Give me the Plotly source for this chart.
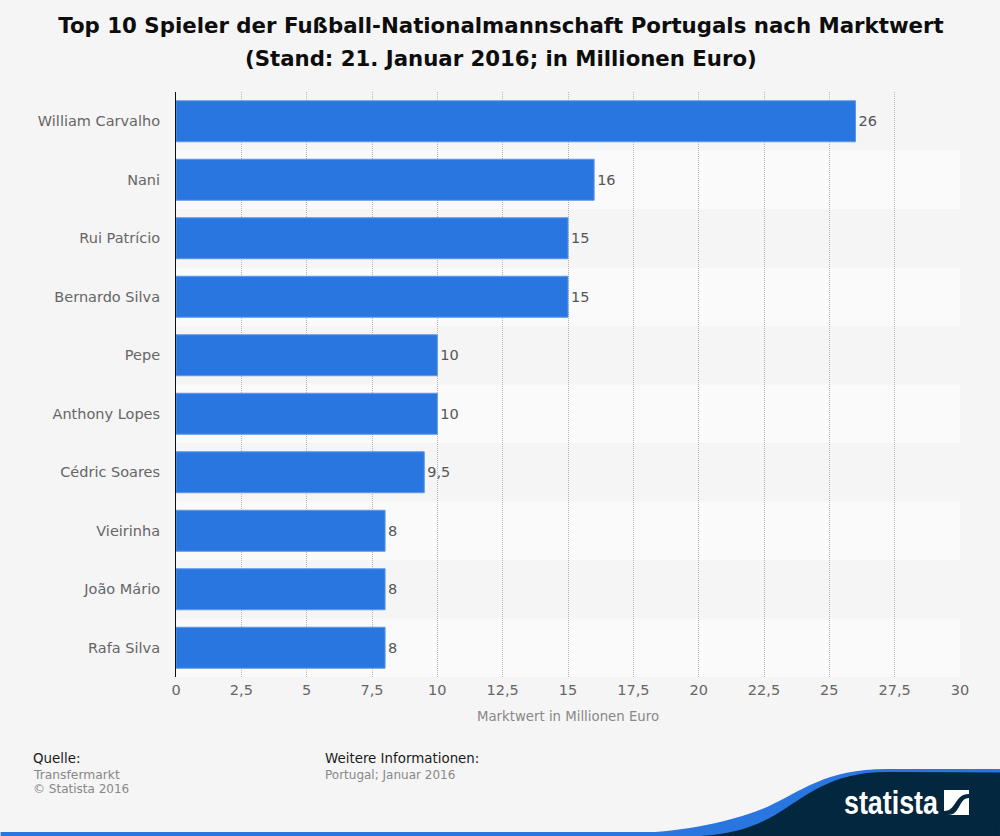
import plotly.graph_objects as go

players = ["William Carvalho", "Nani", "Rui Patrício", "Bernardo Silva", "Pepe",
           "Anthony Lopes", "Cédric Soares", "Vieirinha", "João Mário", "Rafa Silva"]
market_value = [26, 16, 15, 15, 10, 10, 9.5, 8, 8, 8]
x_ticks = [0, 2.5, 5, 7.5, 10, 12.5, 15, 17.5, 20, 22.5, 25, 27.5, 30]

BLUE = "#2976e0"
NAVY = "#03273f"
L, R, T, B = 175.5, 960, 92, 677


def px(x):
    return (x - L) / (R - L)


def py(y):
    return (B - y) / (B - T)


def path(cmds):
    out = []
    for c in cmds:
        if c == "Z":
            out.append("Z")
        elif c[0] == "C":
            a = c[1:]
            out.append("C " + " ".join(f"{px(a[i]):.5f},{py(a[i+1]):.5f}" for i in range(0, 6, 2)))
        else:
            out.append(f"{c[0]} {px(c[1]):.5f},{py(c[2]):.5f}")
    return " ".join(out)


labels = [f"{v:g}".replace(".", ",") for v in market_value]

fig = go.Figure(go.Bar(
    x=market_value, y=players, orientation="h", width=0.7,
    marker=dict(color=BLUE, line=dict(color="#5b97e8", width=1)),
    text=labels, textposition="outside", cliponaxis=False,
    textfont=dict(family="DejaVu Sans", size=14.5, color="#555555"),
    hoverinfo="x+y",
))

shapes = []
for i in range(len(players)):
    shapes.append(dict(type="rect", xref="paper", x0=0, x1=1, yref="y", y0=i - .5, y1=i + .5,
                       fillcolor="#f5f5f5" if i % 2 == 0 else "#fafafa",
                       line_width=0, layer="below"))

shapes += [
    dict(type="rect", xref="paper", yref="paper", x0=px(0), x1=px(1000), y0=py(836), y1=py(832),
         fillcolor=BLUE, line_width=0),
    dict(type="path", xref="paper", yref="paper", fillcolor=BLUE, line_width=0,
         path=path([("M", 620, 834), ("C", 680, 832, 725, 824, 767, 807),
                    ("C", 800, 792, 825, 769, 887, 769), ("L", 1000, 769),
                    ("L", 1000, 836), ("L", 620, 836), "Z"])),
    dict(type="path", xref="paper", yref="paper", fillcolor=NAVY, line_width=0,
         path=path([("M", 700, 836), ("C", 735, 834, 755, 826, 775, 815),
                    ("C", 805, 797, 830, 772, 887, 772), ("L", 1000, 772.5),
                    ("L", 1000, 836), "Z"])),
    dict(type="rect", xref="paper", yref="paper", x0=px(944), x1=px(969), y0=py(815), y1=py(790),
         fillcolor="white", line_width=0),
    dict(type="path", xref="paper", yref="paper", fillcolor=NAVY, line_width=0,
         path=path([("M", 944, 811), ("C", 957, 811, 954, 794, 969, 794), ("L", 969, 798),
                    ("C", 958, 798, 961, 815, 948, 815), ("L", 944, 815), "Z"])),
]


def note(x, y, text, size=12.0, color="#888888", anchor="left", family="DejaVu Sans", weight=None, **kw):
    font = dict(family=family, size=size, color=color)
    if weight:
        font["weight"] = weight
    return dict(xref="paper", yref="paper", x=px(x), y=py(y), text=text, showarrow=False,
                xanchor=anchor, yanchor="middle", align=anchor, font=font, borderpad=0, **kw)


annotations = [
    note(501, 59, "(Stand: 21. Januar 2016; in Millionen Euro)", size=21.25, color="#0d0d0d", anchor="center", weight=700),
    note(31, 758, "Quelle:", size=13.4, color="#1a1a1a"),
    note(31, 775, "Transfermarkt", size=12.3),
    note(31, 789, "© Statista 2016"),
    note(324, 758, "Weitere Informationen:", size=13.4, color="#1a1a1a"),
    note(324, 775, "Portugal; Januar 2016"),
    note(843, 802, "statista", size=34, color="white", family="Liberation Sans", weight=700),
]

fig.update_layout(
    width=1000, height=836, autosize=False,
    paper_bgcolor="#f5f5f5", plot_bgcolor="#f5f5f5",
    margin=dict(l=L, r=1000 - R, t=T, b=836 - B, pad=0),
    separators=",.",
    showlegend=False,
    title=dict(text="Top 10 Spieler der Fußball-Nationalmannschaft Portugals nach Marktwert",
               x=501 / 1000, xanchor="center", xref="container",
               y=1 - 26 / 836, yanchor="middle",
               font=dict(family="DejaVu Sans", size=21.3, color="#0d0d0d", weight=700)),
    shapes=shapes, annotations=annotations,
    xaxis=dict(range=[0, 30], tickvals=x_ticks, showgrid=True,
               griddash="1px,1px", gridcolor="#b4b4b4", gridwidth=1, zeroline=False,
               showline=False, ticks="", ticklabelstandoff=2,
               tickfont=dict(family="DejaVu Sans", size=14.5, color="#666666"),
               title=dict(text="Marktwert in Millionen Euro", standoff=15,
                          font=dict(family="DejaVu Sans", size=13.3, color="#888888"))),
    yaxis=dict(autorange="reversed", showline=True, linecolor="#111111", linewidth=1,
               showgrid=False, zeroline=False, ticks="", ticklabelstandoff=12,
               tickfont=dict(family="DejaVu Sans", size=14.5, color="#666666")),
)

squeeze = """
document.body.style.margin='0';
document.querySelectorAll('.annotation-text').forEach(function(t){
  if (t.textContent === 'statista') {
    t.setAttribute('textLength', '94');
    t.setAttribute('lengthAdjust', 'spacingAndGlyphs');
  }
});
"""
fig.write_html("out.html", post_script=squeeze, config={"displayModeBar": False})
